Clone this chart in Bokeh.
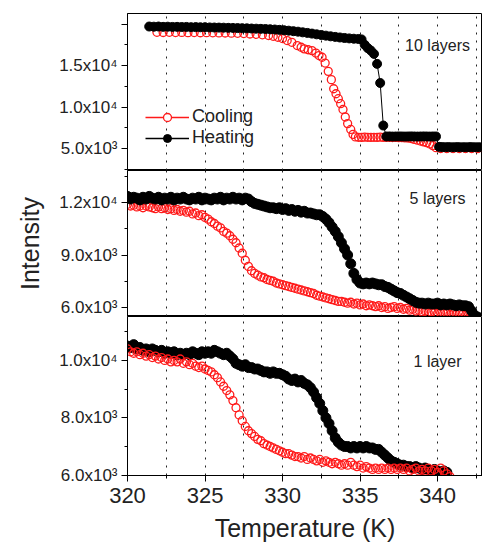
from bokeh.plotting import figure
from bokeh.layouts import column
from bokeh.models import Range1d, FixedTicker, Legend, LegendItem, Label
from bokeh.embed import file_html
from bokeh.resources import INLINE

NAN = float("nan")

# ---------------- data ----------------
# 10 layers
l10_heat_T = [321.4, 321.7, 322.0, 322.3, 322.6, 322.9, 323.2, 323.5, 323.8, 324.1, 324.4, 324.7,
              325.0, 325.3, 325.6, 325.9, 326.2, 326.5, 326.8, 327.1, 327.4, 327.7, 328.0, 328.3,
              328.6, 328.9, 329.2, 329.5, 329.8, 330.1, 330.4, 330.7, 331.0, 331.3, 331.6, 331.9,
              332.2, 332.5, 332.8, 333.1, 333.4, 333.7, 334.0, 334.3, 334.6, 334.9, 335.1, 335.3,
              335.5, 335.7, 335.9, 336.1, 336.3, 336.5, 336.7, 336.9, 337.1, 337.3, 337.5, 337.7,
              337.9, 338.1, 338.3, 338.5, 338.7, 338.9, 339.1, 339.3, 339.5, 339.7, 339.9, 340.1,
              340.3, 340.5, 340.7, 340.9, 341.1, 341.3, 341.5, 341.7, 341.9, 342.1, 342.3, 342.5, 342.7]
l10_heat_I = [19700, 19680, 19700, 19660, 19680, 19650, 19660, 19640, 19650, 19620, 19630, 19610,
              19620, 19590, 19580, 19570, 19560, 19540, 19530, 19510, 19500, 19480, 19460, 19440,
              19420, 19400, 19370, 19340, 19300, 19250, 19200, 19140, 19080, 19000, 18930, 18850,
              18760, 18680, 18600, 18520, 18450, 18380, 18320, 18270, 18230, 18200, 18150, 17500,
              17100, 16800, 16400, 15200, 12900, 7770, 6450, 6460, 6440, 6450, 6460, 6450,
              6440, 6450, 6460, 6450, 6440, 6450, 6460, 6450, 6440, 6450, 6450, 5200,
              5170, 5160, 5170, 5150, 5160, 5170, 5150, 5160, 5150, 5170, 5160, 5150, 5160]
l10_cool_T = [321.9, 322.3, 322.7, 323.1, 323.5, 323.9, 324.3, 324.7, 325.1, 325.5, 325.9, 326.3,
              326.7, 327.1, 327.5, 327.9, 328.3, 328.7, 329.1, 329.4, 329.7, 330.0, 330.3, 330.6,
              330.95, 331.2, 331.4, 331.65, 331.9, 332.15, 332.35, 332.55, 332.75, 332.95, 333.15,
              333.3, 333.45, 333.6, 333.75, 333.9, 334.05, 334.2, 334.4, 334.55, 334.7, 334.9,
              335.1, 335.3, 335.5, 335.7, 335.9, 336.1, 336.3, 336.5, 336.7, 336.9, 337.1, 337.3,
              337.5, 337.7, 337.9, 338.1, 338.3, 338.5, 338.7, 338.9, 339.1, 339.3, 339.5, 339.7,
              339.9, 340.2, 340.6, 341.0, 341.4, 341.8, 342.2, 342.6]
l10_cool_I = [19000, 18980, 19000, 18970, 18990, 18960, 18970, 18950, 18960, 18940, 18930, 18920,
              18900, 18880, 18850, 18800, 18760, 18700, 18620, 18520, 18410, 18250, 18010, 17800,
              17410, 17200, 17010, 16900, 16800, 16500, 16200, 16000, 15300, 14300, 13300,
              12200, 11600, 11000, 10400, 9700, 8800, 8000, 7300, 6700, 6400, 6350,
              6340, 6360, 6350, 6330, 6350, 6340, 6360, 6330, 6350, 6340, 6320, 6330,
              6300, 6310, 6280, 6260, 6200, 6100, 6000, 5900, 5800, 5700, 5550, 5350,
              5100, 5000, 5000, 5000, 5000, 5000, 5000, 5000]

# 5 layers
l5_heat_T = [320.0, 320.2, 320.4, 320.6, 320.8, 321.0, 321.2, 321.4, 321.6, 321.8, 322.0, 322.2,
             322.4, 322.6, 322.8, 323.0, 323.2, 323.4, 323.6, 323.8, 324.0, 324.2, 324.4, 324.6,
             324.8, 325.0, 325.2, 325.4, 325.6, 325.8, 326.0, 326.2, 326.4, 326.6, 326.8, 327.0,
             327.2, 327.4, 327.6, 327.8, 328.0, 328.2, 328.4, 328.6, 328.8, 329.0, 329.2, 329.4,
             329.6, 329.8, 330.0, 330.2, 330.4, 330.6, 330.8, 331.0, 331.2, 331.4, 331.6, 331.8,
             332.0, 332.2, 332.4, 332.6, 332.8, 333.0, 333.2, 333.4, 333.6, 333.8, 334.0, 334.2,
             334.4, 334.6, 334.8, 335.0, 335.2, 335.4, 335.6, 335.8, 336.0, 336.2, 336.4, 336.6,
             336.8, 337.0, 337.2, 337.4, 337.6, 337.8, 338.0, 338.2, 338.4, 338.6, 338.8, 339.0,
             339.2, 339.4, 339.6, 339.8, 340.0, 340.2, 340.4, 340.6, 340.8, 341.0, 341.2, 341.4,
             341.6, 341.8, 342.0, 342.2, 342.4, 342.6]
l5_heat_I = [12350, 12200, 12300, 12250, 12150, 12300, 12200, 12350, 12250, 12200, 12300, 12150,
             12250, 12200, 12300, 12150, 12250, 12200, 12300, 12200, 12150, 12250, 12200, 12300,
             12150, 12250, 12200, 12150, 12250, 12200, 12300, 12150, 12250, 12200, 12300, 12200,
             12250, 12150, 12250, 12200, 12050, 11950, 11900, 11850, 11800, 11750, 11700, 11700,
             11650, 11700, 11600, 11650, 11550, 11600, 11500, 11550, 11450, 11500, 11400, 11400,
             11350, 11300, 11300, 11200, 11050, 10850, 10600, 10350, 10050, 9700, 9350, 9000,
             8500, 7950, 7600, 7400, 7350, 7400, 7350, 7400, 7350, 7300, 7300, 7200,
             7150, 7050, 6950, 6850, 6800, 6700, 6600, 6500, 6400, 6300, 6250, 6250,
             6200, 6250, 6200, 6200, 6250, 6150, 6200, 6150, 6200, 6150, 6100, 6150,
             6100, 6100, 6050, 5800, 5550, 5450]
l5_cool_T = [320.0, 320.2, 320.4, 320.6, 320.8, 321.0, 321.2, 321.4, 321.6, 321.8, 322.0, 322.2,
             322.4, 322.6, 322.8, 323.0, 323.2, 323.4, 323.6, 323.8, 324.0, 324.2, 324.4, 324.6,
             324.8, 325.0, 325.2, 325.4, 325.6, 325.8, 326.0, 326.2, 326.4, 326.6, 326.8, 327.0,
             327.2, 327.4, 327.6, 327.8, 328.0, 328.2, 328.4, 328.6, 328.8, 329.0, 329.2, 329.4,
             329.6, 329.8, 330.0, 330.2, 330.4, 330.6, 330.8, 331.0, 331.2, 331.4, 331.6, 331.8,
             332.0, 332.2, 332.4, 332.6, 332.8, 333.0, 333.2, 333.4, 333.6, 333.8, 334.0, 334.2,
             334.4, 334.6, 334.8, 335.0, 335.2, 335.4, 335.6, 335.8, 336.0, 336.2, 336.4, 336.6,
             336.8, 337.0, 337.2, 337.4, 337.6, 337.8, 338.0, 338.2, 338.4, 338.6, 338.8, 339.0,
             339.2, 339.4, 339.6, 339.8, 340.0, 340.2, 340.4, 340.6, 340.8, 341.0, 341.2, 341.4,
             341.6, 341.8, 342.0, 342.2]
l5_cool_I = [11900, 11800, 11850, 11750, 11800, 11700, 11800, 11750, 11700, 11650, 11750, 11650,
             11700, 11600, 11650, 11550, 11600, 11500, 11550, 11450, 11500, 11350, 11400, 11250,
             11300, 11150, 11050, 10900, 10800, 10650, 10550, 10350, 10250, 10100, 9900, 9700,
             9400, 9100, 8700, 8350, 8100, 7950, 7850, 7750, 7700, 7600, 7550, 7500,
             7400, 7350, 7300, 7250, 7200, 7150, 7100, 7050, 7000, 6950, 6900, 6850,
             6800, 6700, 6650, 6600, 6550, 6500, 6450, 6400, 6350, 6350, 6300, 6250,
             6300, 6200, 6250, 6150, 6200, 6100, 6150, 6100, 6050, 6100, 6000, 6050,
             5950, 6000, 6050, 5950, 6000, 5900, 5950, 5850, 5900, 5800, 5850, 5750,
             5800, 5700, 5750, 5700, 5650, 5700, 5650, 5700, 5600, 5650, 5600, 5650,
             5600, 5550, 5600, 5550]

# 1 layer
l1_heat_T = [320.0, 320.2, 320.4, 320.6, 320.8, 321.0, 321.2, 321.4, 321.6, 321.8, 322.0, 322.2,
             322.4, 322.6, 322.8, 323.0, 323.2, 323.4, 323.6, 323.8, 324.0, 324.2, 324.4, 324.6,
             324.8, 325.0, 325.2, 325.4, 325.6, 325.8, 326.0, 326.2, 326.4, 326.6, 326.8, 327.0,
             327.2, 327.4, 327.6, 327.8, 328.0, 328.2, 328.4, 328.6, 328.8, 329.0, 329.2, 329.4,
             329.6, 329.8, 330.0, 330.2, 330.4, 330.6, 330.8, 331.0, 331.2, 331.4, 331.6, 331.8,
             332.0, 332.2, 332.4, 332.6, 332.8, 333.0, 333.2, 333.4, 333.6, 333.8, 334.0, 334.2,
             334.4, 334.6, 334.8, 335.0, 335.2, 335.4, 335.6, 335.8, 336.0, 336.2, 336.4, 336.6,
             336.8, 337.0, 337.2, 337.4, 337.6, 337.8, 338.0, 338.2, 338.4, 338.6, 338.8, 339.0,
             339.2, 339.4, 339.6, 339.8, 340.0, 340.2, 340.4, 340.6]
l1_heat_I = [10500, 10450, 10550, 10400, 10450, 10350, 10400, 10300, 10400, 10350, 10300, 10350,
             10250, 10300, 10250, 10300, 10200, 10250, 10200, 10250, 10200, 10300, 10250, 10200,
             10300, 10250, 10300, 10250, 10350, 10300, 10250, 10200, 10250, 10150, 10050, 9900,
             9850, 9800, 9850, 9750, 9750, 9700, 9700, 9650, 9600, 9600, 9550, 9600,
             9550, 9550, 9500, 9450, 9350, 9300, 9350, 9250, 9300, 9200, 9150, 9050,
             8900, 8700, 8500, 8250, 8000, 7800, 7550, 7300, 7150, 7050, 7000, 7000,
             6950, 7000, 6950, 7000, 6950, 7000, 6950, 6950, 6900, 6900, 6800, 6700,
             6600, 6500, 6450, 6400, 6350, 6350, 6300, 6300, 6250, 6300, 6250, 6200,
             6250, 6200, 6150, 6200, 6150, 6100, 6150, 6100]
l1_cool_T = [320.0, 320.2, 320.4, 320.6, 320.8, 321.0, 321.2, 321.4, 321.6, 321.8, 322.0, 322.2,
             322.4, 322.6, 322.8, 323.0, 323.2, 323.4, 323.6, 323.8, 324.0, 324.2, 324.4, 324.6,
             324.8, 325.0, 325.2, 325.4, 325.6, 325.8, 326.0, 326.2, 326.4, 326.6, 326.8, 327.0,
             327.2, 327.4, 327.6, 327.8, 328.0, 328.2, 328.4, 328.6, 328.8, 329.0, 329.2, 329.4,
             329.6, 329.8, 330.0, 330.2, 330.4, 330.6, 330.8, 331.0, 331.2, 331.4, 331.6, 331.8,
             332.0, 332.2, 332.4, 332.6, 332.8, 333.0, 333.2, 333.4, 333.6, 333.8, 334.0, 334.2,
             334.4, 334.6, 334.8, 335.0, 335.2, 335.4, 335.6, 335.8, 336.0, 336.2, 336.4, 336.6,
             336.8, 337.0, 337.2, 337.4, 337.6, 337.8, 338.0, 338.2, 338.4, 338.6, 338.8, 339.0,
             339.2, 339.4, 339.6, 339.8, 340.0, 340.2, 340.4, 340.6, 340.8, 341.0]
l1_cool_I = [10400, 10300, 10250, 10300, 10200, 10250, 10150, 10200, 10100, 10150, 10050, 10100,
             10000, 10050, 9950, 10000, 9950, 10050, 9900, 9950, 9850, 9900, 9800, 9750,
             9800, 9700, 9650, 9600, 9500, 9400, 9250, 9100, 8950, 8800, 8600, 8350,
             8100, 7900, 7700, 7550, 7450, 7350, 7250, 7200, 7100, 7050, 7000, 6950,
             6900, 6850, 6800, 6750, 6750, 6700, 6650, 6650, 6600, 6650, 6550, 6600,
             6550, 6500, 6550, 6450, 6500, 6450, 6400, 6450, 6400, 6350, 6400, 6350,
             6450, 6350, 6300, 6350, 6250, 6300, 6250, 6200, 6250, 6200, 6250, 6200,
             6250, 6200, 6250, 6200, 6250, 6200, 6250, 6150, 6200, 6250, 6150, 6200,
             6150, 6250, 6150, 6200, 6100, 6250, 6150, 6050, 5950, 5850]

x_ticks = [320, 325, 330, 335, 340]
grid_ticks = [322.5, 325, 327.5, 330, 332.5, 335, 337.5, 340, 342.5]
top_ticks = [5000, 10000, 15000, 20000]
top_labels = {5000: "5.0x10³", 10000: "1.0x10⁴", 15000: "1.5x10⁴", 20000: ""}
mid_ticks = [6000, 9000, 12000]
mid_labels = {6000: "6.0x10³", 9000: "9.0x10³", 12000: "1.2x10⁴"}
bot_ticks = [6000, 8000, 10000]
bot_labels = {6000: "6.0x10³", 8000: "8.0x10³", 10000: "1.0x10⁴"}

# ---------------- styling ----------------
FONT = "Liberation Sans"
RED = "#ff1a1a"
TXT = "#222222"
W = 482
LEFT = 127
xr = Range1d(320, 342.9)


def make_panel(height, yr, ticks, minor, labels, top_border=0, bottom_border=0, show_x=False,
               ylabel=None):
    p = figure(width=W, height=height, x_range=xr, y_range=yr, output_backend="svg",
               toolbar_location=None, min_border_left=LEFT, min_border_right=0,
               min_border_top=top_border, min_border_bottom=bottom_border)
    p.background_fill_color = "white"
    p.border_fill_color = "white"
    p.outline_line_color = "black"
    p.outline_line_width = 1
    p.ygrid.visible = False
    p.xgrid.ticker = FixedTicker(ticks=grid_ticks)
    p.xgrid.grid_line_color = "#222222"
    p.xgrid.grid_line_dash = "2 6"
    p.xgrid.grid_line_width = 1
    ya = p.yaxis[0]
    ya.ticker = FixedTicker(ticks=ticks, minor_ticks=minor)
    ya.major_label_overrides = labels
    ya.major_label_text_font = FONT
    ya.major_label_text_font_size = "17px"
    ya.major_label_text_color = TXT
    ya.major_tick_out = 6
    ya.major_tick_in = 0
    ya.minor_tick_out = 3
    ya.minor_tick_in = 0
    ya.major_label_standoff = 4
    ya.axis_line_color = "black"
    if ylabel:
        ya.axis_label = ylabel
        ya.axis_label_text_font = FONT
        ya.axis_label_text_font_size = "25px"
        ya.axis_label_text_font_style = "normal"
        ya.axis_label_text_color = TXT
        ya.axis_label_standoff = 12
    xa = p.xaxis[0]
    if show_x:
        xa.ticker = FixedTicker(ticks=x_ticks, minor_ticks=[322.5, 327.5, 332.5, 337.5, 342.5])
        xa.major_label_text_font = FONT
        xa.major_label_text_font_size = "22px"
        xa.major_label_text_color = TXT
        xa.major_tick_out = 6
        xa.major_tick_in = 0
        xa.minor_tick_out = 3
        xa.minor_tick_in = 0
        xa.major_label_standoff = 6
        xa.axis_label = "Temperature (K)"
        xa.axis_label_text_font = FONT
        xa.axis_label_text_font_size = "25px"
        xa.axis_label_text_font_style = "normal"
        xa.axis_label_text_color = TXT
        xa.axis_label_standoff = 8
    else:
        xa.visible = False
    return p


def cool(p, T, I, size=8):
    return p.scatter(T, I, marker="circle", size=size, fill_color=None, line_color=RED,
                     line_width=1.3)


def heat(p, T, I, size=9, line=False):
    r = []
    if line:
        r.append(p.line(T, I, line_color="black", line_width=1))
    r.append(p.scatter(T, I, marker="circle", size=size, fill_color="black", line_color="black"))
    return r


def tag(p, text, x, y):
    p.add_layout(Label(x=x, y=y, text=text, text_font=FONT, text_font_size="16px",
                       text_color=TXT, text_align="center", text_baseline="middle"))


# top: 10 layers
p1 = make_panel(170, Range1d(2350, 21270), top_ticks, [2500, 7500, 12500, 17500], top_labels,
                top_border=13)
cool(p1, l10_cool_T, l10_cool_I, size=8)
heat(p1, l10_heat_T, l10_heat_I, size=9, line=True)
tag(p1, "10 layers", 340.0, 17400)

# legend-only renderers (not-a-number positions: nothing drawn in the plot area)
leg_cool_line = p1.line([NAN], [NAN], line_color=RED, line_width=1.3)
leg_cool_pt = p1.scatter([NAN], [NAN], marker="circle", size=9, fill_color="white",
                         line_color=RED, line_width=1.3)
leg_heat_line = p1.line([NAN], [NAN], line_color="black", line_width=1.3)
leg_heat_pt = p1.scatter([NAN], [NAN], marker="circle", size=9, fill_color="black",
                         line_color="black")
legend = Legend(items=[LegendItem(label="Cooling", renderers=[leg_cool_line, leg_cool_pt]),
                       LegendItem(label="Heating", renderers=[leg_heat_line, leg_heat_pt])],
                location=(18, 22), orientation="vertical", padding=0, spacing=0, margin=0,
                glyph_width=44, glyph_height=20, label_height=20, label_standoff=3,
                label_text_font=FONT, label_text_font_size="18px", label_text_color=TXT,
                border_line_color=None, background_fill_alpha=0)
p1.add_layout(legend)

# middle: 5 layers
p2 = make_panel(146, Range1d(5486, 13830), mid_ticks, [7500, 10500, 13500], mid_labels,
                ylabel="Intensity")
cool(p2, l5_cool_T, l5_cool_I, size=8)
heat(p2, l5_heat_T, l5_heat_I, size=10)
tag(p2, "5 layers", 340.0, 12210)

# bottom: 1 layer
p3 = make_panel(234, Range1d(5990, 11530), bot_ticks, [7000, 9000, 11000], bot_labels,
                bottom_border=75, show_x=True)
heat(p3, l1_heat_T, l1_heat_I, size=10)
cool(p3, l1_cool_T, l1_cool_I, size=8)
tag(p3, "1 layer", 340.0, 9975)

layout = column(p1, p2, p3, spacing=0)
open("out.html", "w").write(file_html(layout, INLINE))
